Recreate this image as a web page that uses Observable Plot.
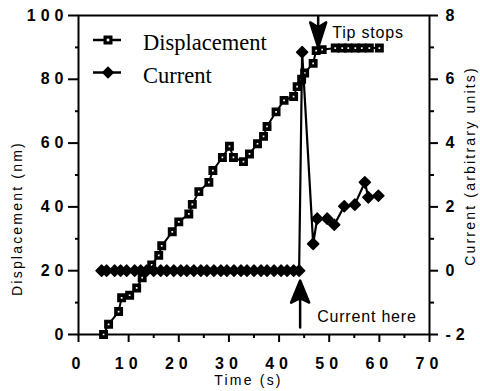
<!DOCTYPE html>
<html><head><meta charset="utf-8">
<script src="https://cdn.jsdelivr.net/npm/d3@7"></script>
<script src="https://cdn.jsdelivr.net/npm/@observablehq/plot@0.6"></script>
<style>
html,body{margin:0;padding:0;background:#fff;}
#chart svg{display:block;}
g[aria-label="x-axis tick label"] text, g[aria-label="y-axis tick label"] text{letter-spacing:5px;}
</style></head><body><div id="chart"></div>
<script>
// Displacement (nm) vs time (s)
const dispTime  = [5, 6, 8, 8.6, 10.2, 11.6, 12.7, 14.6, 16, 16.6, 18.7, 20, 22, 22.7, 24, 26, 26.8, 28.7, 30.1, 30.9, 32.9, 34.1, 35.7, 36.9, 37.6, 39.4, 41, 42.9, 43.6, 44.5, 45.1, 46.8, 47.4, 48.6, 51.2, 52.6, 53.8, 55.2, 56.5, 58, 60];
const dispValue = [0, 3.2, 7.2, 11.5, 12.3, 14.6, 17.8, 21.8, 24.8, 27.8, 32.2, 35.3, 37.8, 40.8, 44.8, 47.7, 51.4, 55.5, 59, 55.5, 54.2, 56.6, 59.8, 62.1, 65.2, 69.8, 73.4, 74.6, 77.7, 80, 82, 85, 89, 89.3, 89.8, 89.8, 89.8, 89.8, 89.8, 89.8, 89.8];
// Current (arbitrary units) vs time (s)
const curTime  = [4.6, 5.6, 7.2, 8.4, 9.6, 11.2, 12.4, 13.6, 15, 16.4, 17.6, 19, 20.4, 21.6, 23, 24.4, 25.6, 27, 28.4, 29.6, 31, 32.4, 33.6, 35, 36.4, 37.6, 39, 40.4, 41.6, 42.9, 44, 44.6, 46.8, 47.6, 49.6, 51, 53, 55.1, 57.1, 57.8, 59.8];
const curValue = [0, 0, 0, 0, 0, 0, 0, 0, 0, 0, 0, 0, 0, 0, 0, 0, 0, 0, 0, 0, 0, 0, 0, 0, 0, 0, 0, 0, 0, 0, 0, 6.85, 0.84, 1.63, 1.63, 1.44, 2.02, 2.07, 2.77, 2.3, 2.35];

const xMajorTicks = [0, 10, 20, 30, 40, 50, 60, 70];
const xMinorTicks = [5, 15, 25, 35, 45, 55, 65];
const yMajorTicks = [0, 20, 40, 60, 80, 100];
const yMinorTicks = [10, 30, 50, 70, 90];
const curMajorTicks = [-2, 0, 2, 4, 6, 8];
const curMinorTicks = [-1, 1, 3, 5, 7];

const seriesNames = ["Displacement", "Current"];
const xTitle = "Time (s)";
const yTitle = "Displacement (nm)";
const y2Title = "Current (arbitrary units)";

// annotations: label, arrow x (s), arrow tip (nm), text x (s), text y (nm)
const annoLabel = ["Tip stops", "Current here"];
const annoArrowX = [47.8, 44.2];
const annoArrowTip = [90, 16.9];
const annoTextX = [50.6, 47.6];
const annoTextY = [94.5, 5.5];

// current is drawn on the displacement scale: 0 -> 20 nm, 8 -> 100 nm
const toDisp = c => 20 + 10 * c;

const dispData = dispTime.map((t, i) => ({t, v: dispValue[i]}));
const curData = curTime.map((t, i) => ({t, v: toDisp(curValue[i])}));

function arrowShape(headLen, headW) {
  return {
    draw(ctx, l) {
      ctx.moveTo(0, 0);
      ctx.lineTo(0, -l + headLen * 0.7);
      ctx.moveTo(0, -l);
      ctx.lineTo(headW / 2, -l + headLen);
      ctx.lineTo(0, -l + headLen * 0.8);
      ctx.lineTo(-headW / 2, -l + headLen);
      ctx.closePath();
    }
  };
}

const tickFont = {fontFamily: "Liberation Sans, Arial, sans-serif", fontSize: 16, fontWeight: "bold"};
const titleFont = {fontFamily: "Liberation Sans, Arial, sans-serif", fontSize: 14};

const plot = Plot.plot({
  width: 480, height: 391,
  marginLeft: 78, marginRight: 51, marginTop: 15, marginBottom: 57,
  x: {domain: [0, 70]},
  y: {domain: [0, 100]},
  style: {fontFamily: "Liberation Sans, Arial, sans-serif", background: "white", color: "black", overflow: "visible"},
  marks: [
    Plot.axisX(xMajorTicks, {tickSize: 8, tickPadding: 15, strokeWidth: 2, label: null, tickFormat: d => String(d), ...tickFont}),
    Plot.axisX(xMinorTicks, {tickSize: 4, strokeWidth: 2, label: null, tickFormat: () => ""}),
    Plot.axisY(yMajorTicks, {anchor: "left", tickSize: 10, tickPadding: 0, strokeWidth: 2, label: null, tickFormat: d => String(d), ...tickFont}),
    Plot.axisY(yMinorTicks, {anchor: "left", tickSize: 3, strokeWidth: 2, label: null, tickFormat: () => ""}),
    Plot.axisY(curMajorTicks.map(toDisp), {anchor: "right", tickSize: 8, tickPadding: 8, strokeWidth: 2, label: null, tickFormat: d => String(Math.round((d - 20) / 10)), ...tickFont}),
    Plot.axisY(curMinorTicks.map(toDisp), {anchor: "right", tickSize: 4, strokeWidth: 2, label: null, tickFormat: () => ""}),
    Plot.frame({stroke: "black", strokeWidth: 2}),
    Plot.line(dispData, {x: "t", y: "v", stroke: "black", strokeWidth: 2}),
    Plot.dot(dispData, {x: "t", y: "v", symbol: "square", r: 3.0, fill: "white", stroke: "black", strokeWidth: 3.6}),
    Plot.line(curData, {x: "t", y: "v", stroke: "black", strokeWidth: 2.2}),
    Plot.dot(curData, {x: "t", y: "v", symbol: "diamond2", r: 5, fill: "black", stroke: "black", strokeWidth: 1.5, strokeLinejoin: "round"}),
    Plot.vector([0], {x: annoArrowX[0], y: annoArrowTip[0], anchor: "end", length: 31, rotate: 180, shape: arrowShape(25, 16), stroke: "black", fill: "black", strokeWidth: 2.5}),
    Plot.vector([1], {x: annoArrowX[1], y: annoArrowTip[1], anchor: "end", length: 47, rotate: 0, shape: arrowShape(22, 18), stroke: "black", fill: "black", strokeWidth: 2.5}),
    Plot.text([0, 1], {x: i => annoTextX[i], y: i => annoTextY[i], text: i => annoLabel[i], textAnchor: "start", lineAnchor: "middle", fontSize: 16, fill: "black", fontFamily: "Liberation Sans, Arial, sans-serif"}),
    Plot.text([xTitle], {text: d => d, frameAnchor: "bottom", textAnchor: "middle", dx: -5.5, dy: 46, lineAnchor: "middle", fill: "black", ...titleFont}),
    Plot.text([yTitle], {text: d => d, frameAnchor: "left", textAnchor: "middle", dx: -60.5, dy: 43.5, rotate: -90, lineAnchor: "middle", fill: "black", ...titleFont}),
    Plot.text([y2Title], {text: d => d, frameAnchor: "right", textAnchor: "middle", dx: 41, dy: -9, rotate: -90, lineAnchor: "middle", fill: "black", ...titleFont})
  ]
});

// letter spacing for annotations and titles
d3.select(plot).selectAll('g[aria-label="text"] text').style("letter-spacing", "0.8px");
d3.select(plot).selectAll('g[aria-label="text"]').filter((d, i) => i > 0).selectAll("text").style("letter-spacing", "2.2px");

// legend, inside the frame at top-left
const svg = d3.select(plot);
const leg = svg.append("g").attr("aria-label", "legend");
const legRows = [{name: seriesNames[0], y: 40, sym: "square"}, {name: seriesNames[1], y: 72.5, sym: "diamond"}];
legRows.forEach(r => {
  leg.append("line").attr("x1", 93).attr("x2", 121).attr("y1", r.y).attr("y2", r.y).attr("stroke", "black").attr("stroke-width", 2.5);
  if (r.sym === "square") {
    leg.append("rect").attr("x", 108 - 4.5).attr("y", r.y - 4.5).attr("width", 9).attr("height", 9).attr("fill", "black");
    leg.append("rect").attr("x", 108 - 1.3).attr("y", r.y - 1.3).attr("width", 2.6).attr("height", 2.6).attr("fill", "white");
  } else {
    leg.append("path").attr("d", d3.symbol(d3.symbolDiamond2, Math.PI * 4.7 * 4.7)()).attr("transform", `translate(108,${r.y})`).attr("fill", "black").attr("stroke", "black").attr("stroke-width", 1.5);
  }
  leg.append("text").attr("x", 143).attr("y", r.y + 10).attr("text-anchor", "start").attr("font-family", "Liberation Serif, Times New Roman, serif").attr("font-size", 22.5).attr("fill", "black").text(r.name);
});

document.getElementById("chart").appendChild(plot);
</script>
</body></html>
